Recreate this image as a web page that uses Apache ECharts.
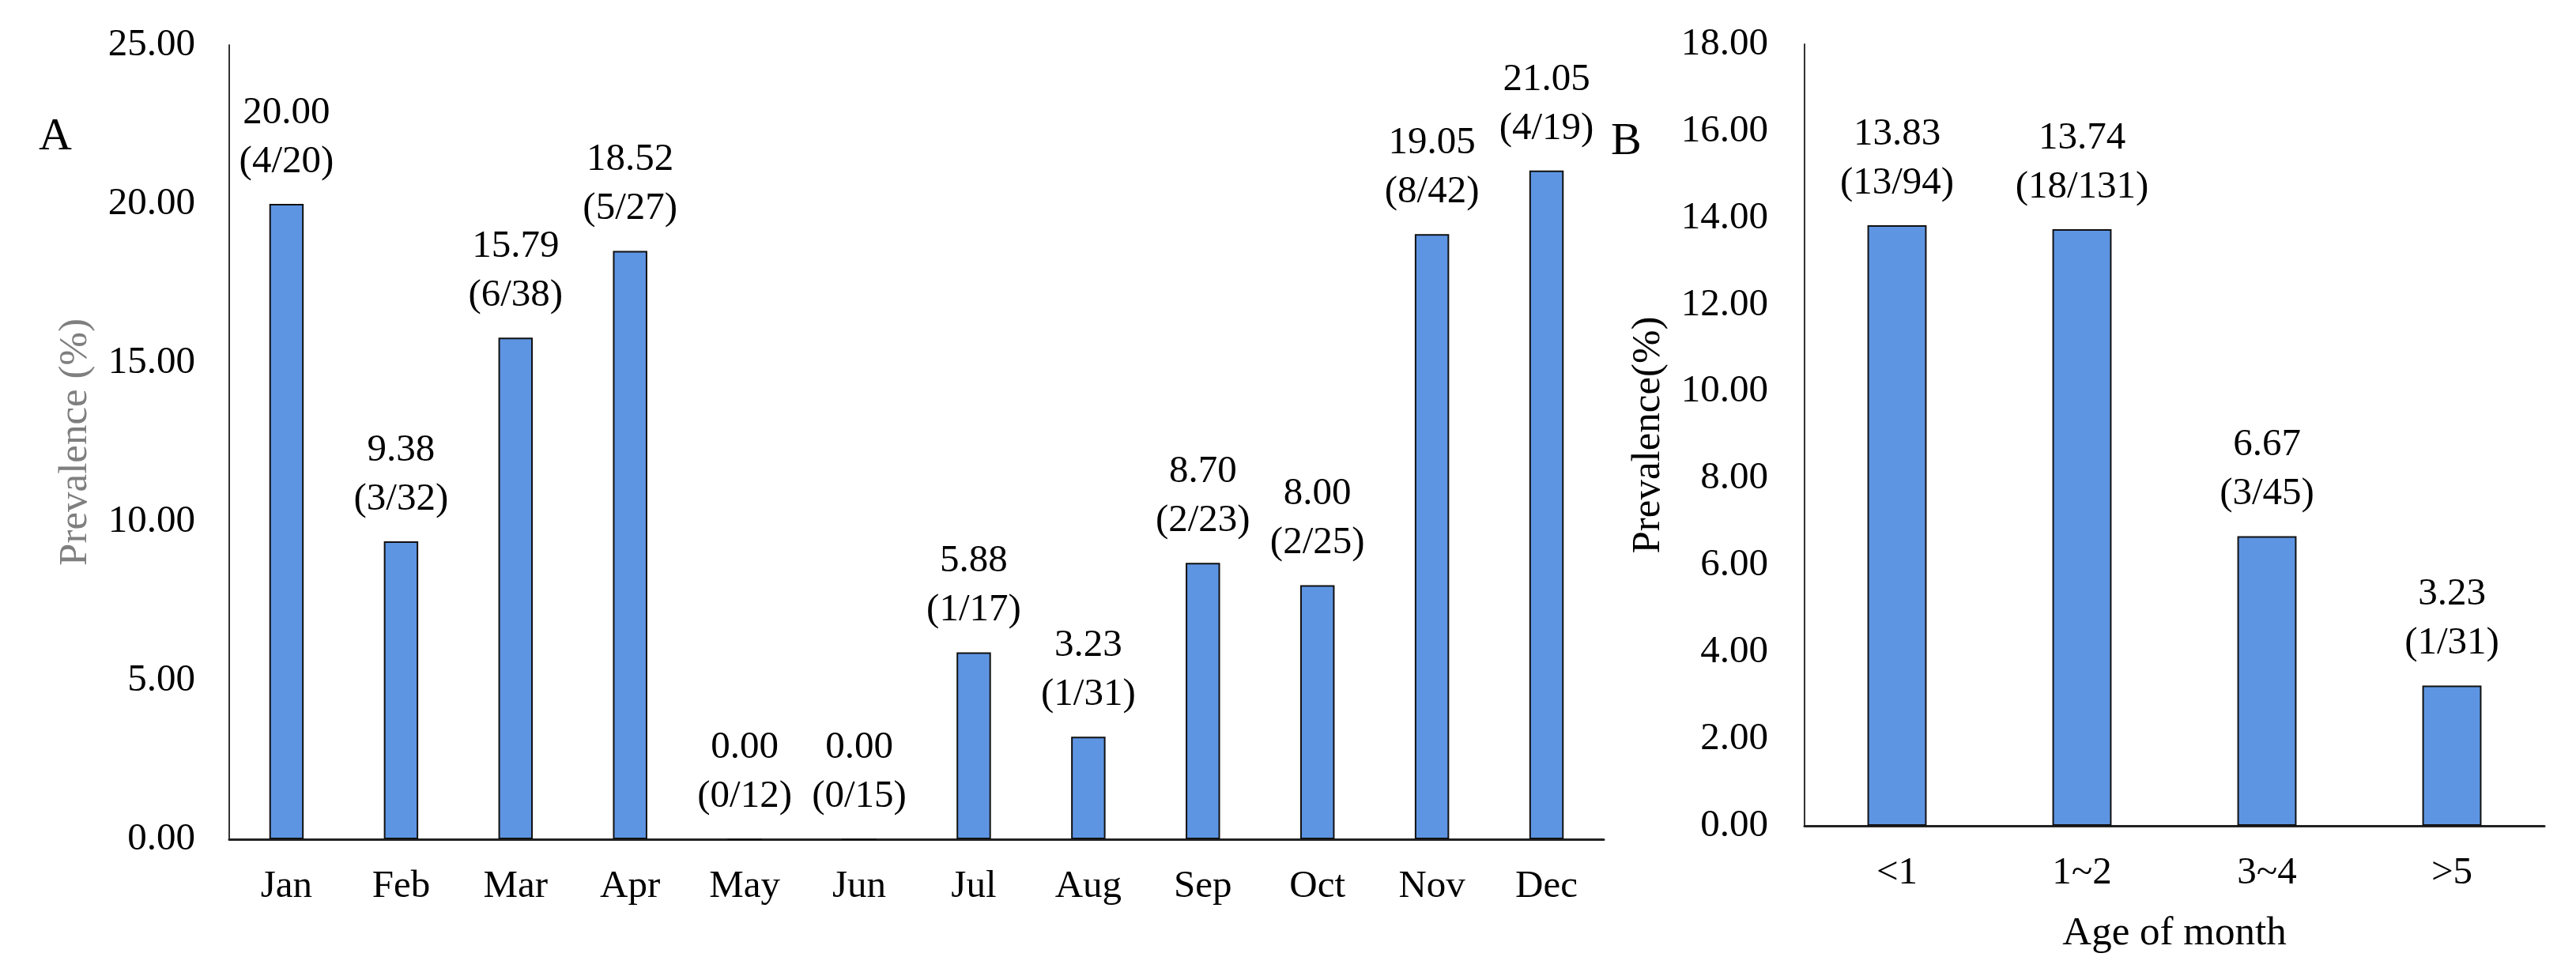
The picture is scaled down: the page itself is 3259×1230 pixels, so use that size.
<!DOCTYPE html>
<html>
<head>
<meta charset="utf-8">
<script src="https://cdn.jsdelivr.net/npm/echarts@6/dist/echarts.min.js"></script>
<style>
html,body{margin:0;padding:0;background:#fff;}
#c{width:3259px;height:1230px;}
</style>
</head>
<body>
<div id="c"></div>
<script>
// Panel A: by month
const monthCats = ['Jan','Feb','Mar','Apr','May','Jun','Jul','Aug','Sep','Oct','Nov','Dec'];
const monthPrev = [20.00, 9.38, 15.79, 18.52, 0.00, 0.00, 5.88, 3.23, 8.70, 8.00, 19.05, 21.05];
const monthPos  = [4, 3, 6, 5, 0, 0, 1, 1, 2, 2, 8, 4];
const monthTot  = [20, 32, 38, 27, 12, 15, 17, 31, 23, 25, 42, 19];
const monthTicks = [0, 5, 10, 15, 20, 25];

// Panel B: by age
const ageCats = ['<1','1~2','3~4','>5'];
const agePrev = [13.83, 13.74, 6.67, 3.23];
const agePos  = [13, 18, 3, 1];
const ageTot  = [94, 131, 45, 31];
const ageTicks = [0, 2, 4, 6, 8, 10, 12, 14, 16, 18];

const FONT = "'Liberation Serif', 'Times New Roman', serif";
const FS = 49;
const NFS = 51;
const BAR = '#5E95E3';

function labelFmt(pos, tot) {
  return p => p.value.toFixed(2) + '\n(' + pos[p.dataIndex] + '/' + tot[p.dataIndex] + ')';
}

const chart = echarts.init(document.getElementById('c'), null, {renderer: 'canvas'});
chart.setOption({
  backgroundColor: '#fff',
  animation: false,
  title: [
    {text: 'A', left: 44, top: 140, textStyle: {fontFamily: FONT, fontSize: 58, fontWeight: 'normal', color: '#000'}},
    {text: 'B', left: 2033, top: 146, textStyle: {fontFamily: FONT, fontSize: 58, fontWeight: 'normal', color: '#000'}}
  ],
  grid: [
    {left: 290, right: 1230, top: 57, bottom: 168, containLabel: false},
    {left: 2283, right: 40, top: 56, bottom: 185, containLabel: false}
  ],
  xAxis: [
    {
      type: 'category', gridIndex: 0, data: monthCats,
      axisLine: {lineStyle: {color: '#222', width: 3}},
      axisTick: {show: false},
      axisLabel: {fontFamily: FONT, fontSize: FS, color: '#000', margin: 36}
    },
    {
      type: 'category', gridIndex: 1, data: ageCats,
      name: 'Age of month', nameLocation: 'middle', nameGap: 111,
      nameTextStyle: {fontFamily: FONT, fontSize: NFS, color: '#000'},
      axisLine: {lineStyle: {color: '#222', width: 3}},
      axisTick: {show: false},
      axisLabel: {fontFamily: FONT, fontSize: FS, color: '#000', margin: 36}
    }
  ],
  yAxis: [
    {
      type: 'value', gridIndex: 0,
      min: monthTicks[0], max: monthTicks[monthTicks.length - 1],
      interval: monthTicks[1] - monthTicks[0],
      name: 'Prevalence (%)', nameLocation: 'middle', nameGap: 169,
      nameTextStyle: {fontFamily: FONT, fontSize: NFS, color: '#7f7f7f'},
      axisLine: {show: true, lineStyle: {color: '#333', width: 2}},
      axisTick: {show: false},
      splitLine: {show: false},
      axisLabel: {fontFamily: FONT, fontSize: FS, color: '#000', margin: 43, formatter: v => v.toFixed(2)}
    },
    {
      type: 'value', gridIndex: 1,
      min: ageTicks[0], max: ageTicks[ageTicks.length - 1],
      interval: ageTicks[1] - ageTicks[0],
      name: 'Prevalence(%)', nameLocation: 'middle', nameGap: 172,
      nameTextStyle: {fontFamily: FONT, fontSize: NFS, color: '#000'},
      axisLine: {show: true, lineStyle: {color: '#333', width: 2}},
      axisTick: {show: false},
      splitLine: {show: false},
      axisLabel: {fontFamily: FONT, fontSize: FS, color: '#000', margin: 46, formatter: v => v.toFixed(2)}
    }
  ],
  series: [
    {
      type: 'bar', xAxisIndex: 0, yAxisIndex: 0, data: monthPrev, barWidth: '30%',
      itemStyle: {color: BAR, borderColor: '#111', borderWidth: 2},
      label: {show: true, position: 'top', distance: 22, fontFamily: FONT, fontSize: FS, color: '#000', lineHeight: 62, formatter: labelFmt(monthPos, monthTot)}
    },
    {
      type: 'bar', xAxisIndex: 1, yAxisIndex: 1, data: agePrev, barWidth: '32%',
      itemStyle: {color: BAR, borderColor: '#111', borderWidth: 2},
      label: {show: true, position: 'top', distance: 22, fontFamily: FONT, fontSize: FS, color: '#000', lineHeight: 62, formatter: labelFmt(agePos, ageTot)}
    }
  ]
});
</script>
</body>
</html>
